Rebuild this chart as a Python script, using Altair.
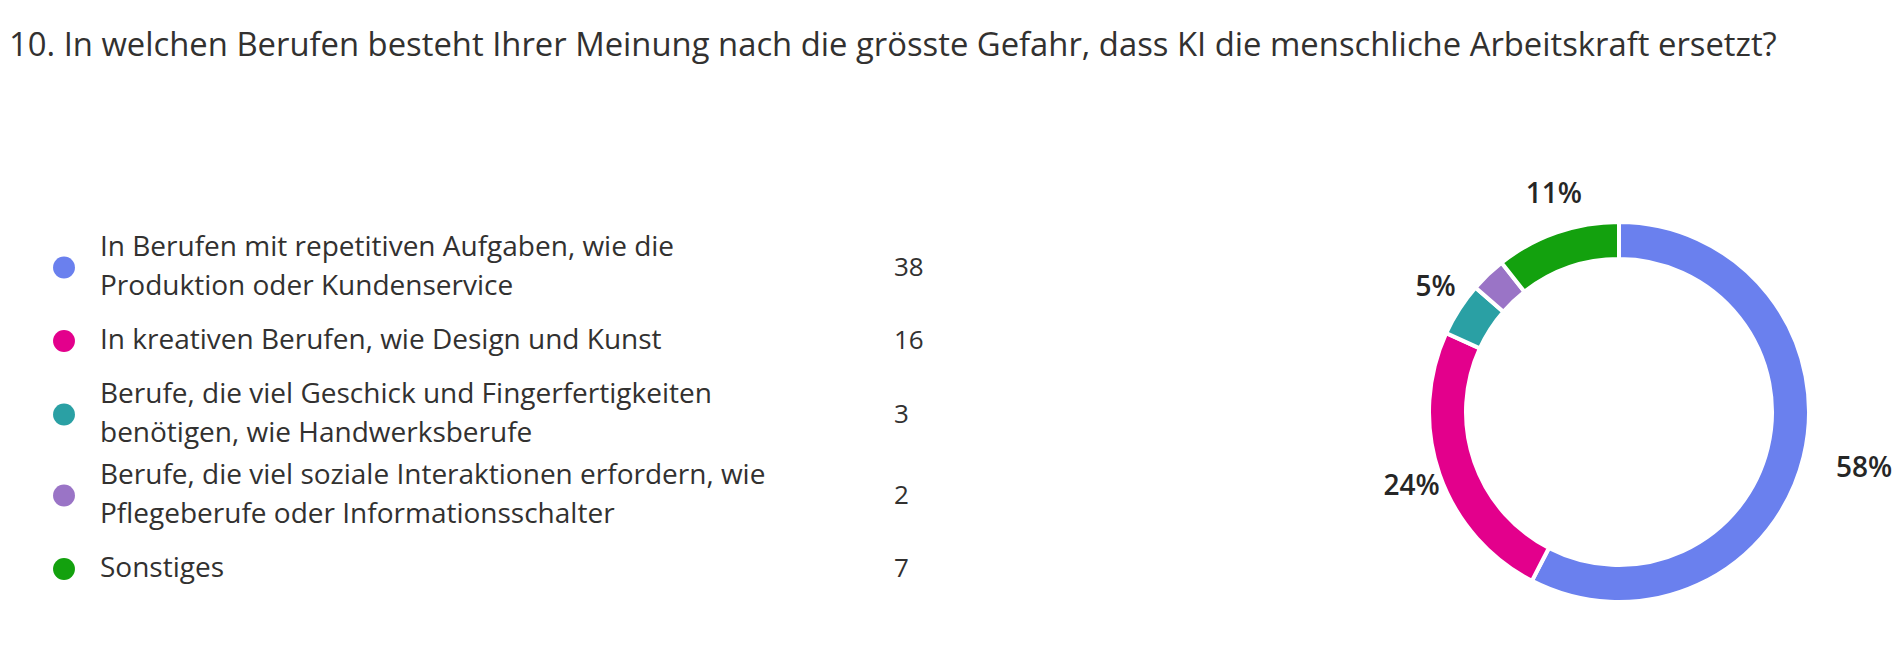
import altair as alt
import pandas as pd

title_text = ("10. In welchen Berufen besteht Ihrer Meinung nach die grösste Gefahr, "
              "dass KI die menschliche Arbeitskraft ersetzt?")
categories = [
    "In Berufen mit repetitiven Aufgaben, wie die\nProduktion oder Kundenservice",
    "In kreativen Berufen, wie Design und Kunst",
    "Berufe, die viel Geschick und Fingerfertigkeiten\nbenötigen, wie Handwerksberufe",
    "Berufe, die viel soziale Interaktionen erfordern, wie\nPflegeberufe oder Informationsschalter",
    "Sonstiges",
]
counts = [38, 16, 3, 2, 7]
colors = ["#6A80EE", "#E3008C", "#2AA0A4", "#9A74C6", "#13A10E"]

FONT = "Open Sans"
TEXT_COLOR = "#323130"

# legend row layout (row height grows with the number of wrapped lines)
ROW_BASE, ROW_PER_LINE, LINE_HEIGHT = 51, 15, 39

n_lines = [len(c.split("\n")) for c in categories]
df = pd.DataFrame({"idx": list(range(len(categories))), "category": categories,
                   "count": counts, "n": n_lines})

line_rows = []
for i, c in enumerate(categories):
    parts = c.split("\n")
    for j, p in enumerate(parts):
        line_rows.append({"idx": i, "line": j, "n": len(parts), "text": p})
lines_df = pd.DataFrame(line_rows)

title_df = pd.DataFrame({"t": [title_text]})

color_scale = alt.Scale(domain=categories, range=colors)
y_scale = alt.Scale(domain=[0, 400], range=[227, 627], nice=False, zero=False)


def with_row_center(ch):
    """Adds field 'center' = vertical middle of the legend row, stacked by row heights."""
    return ch.transform_calculate(
        h=f"{ROW_BASE} + {ROW_PER_LINE} * datum.n"
    ).transform_window(
        cum="sum(h)", sort=[alt.SortField("idx")], frame=[None, 0]
    ).transform_calculate(
        center="datum.cum - datum.h / 2"
    )


title = alt.Chart(title_df).mark_text(
    align="left", baseline="middle", font=FONT, fontSize=32.8, color=TEXT_COLOR
).encode(text="t:N", x=alt.value(9), y=alt.value(46))

dots = with_row_center(alt.Chart(df)).mark_circle(size=480, opacity=1).encode(
    y=alt.Y("center:Q", scale=y_scale, axis=None),
    x=alt.value(64),
    color=alt.Color("category:N", scale=color_scale, legend=None),
)

values = with_row_center(alt.Chart(df)).mark_text(
    align="left", baseline="middle", font=FONT, fontSize=26, color=TEXT_COLOR
).encode(
    y=alt.Y("center:Q", scale=y_scale, axis=None),
    x=alt.value(894),
    text="count:Q",
)

names = alt.Chart(lines_df).transform_lookup(
    lookup="idx",
    from_=alt.LookupData(
        data=alt.InlineData(values=[
            {"idx": int(r.idx), "rc": rc}
            for r, rc in zip(df.itertuples(),
                             (pd.Series([ROW_BASE + ROW_PER_LINE * k for k in n_lines]).cumsum()
                              - pd.Series([ROW_BASE + ROW_PER_LINE * k for k in n_lines]) / 2).tolist())
        ]),
        key="idx", fields=["rc"],
    ),
).transform_calculate(
    pos=f"datum.rc + (datum.line - (datum.n - 1) / 2) * {LINE_HEIGHT}"
).mark_text(
    align="left", baseline="middle", font=FONT, fontSize=28, color=TEXT_COLOR
).encode(
    y=alt.Y("pos:Q", scale=y_scale, axis=None),
    x=alt.value(100),
    text="text:N",
)

CX, CY = 1619, 412

arc = alt.Chart(df).mark_arc(innerRadius=153, outerRadius=190, stroke="white", strokeWidth=4).encode(
    theta=alt.Theta("count:Q", stack=True),
    order=alt.Order("idx:Q"),
    color=alt.Color("category:N", scale=color_scale, legend=None),
    x=alt.value(CX),
    y=alt.value(CY),
)


def pct_layer(expr, r):
    return alt.Chart(df).transform_joinaggregate(total="sum(count)").transform_calculate(
        share="datum.count / datum.total"
    ).transform_calculate(
        label=f"({expr}) ? format(datum.share, '.0%') : ''"
    ).mark_text(
        font=FONT, fontSize=28, fontWeight=600, color="#262626",
        align="center", baseline="middle", dx=10
    ).encode(
        theta=alt.Theta("count:Q", stack=True),
        order=alt.Order("idx:Q"),
        detail="category:N",
        radius=alt.value(r),
        text="label:N",
        x=alt.value(CX),
        y=alt.value(CY),
    )


pct_small = pct_layer("datum.share >= 0.04 && datum.share < 0.5", 230)
pct_big = pct_layer("datum.share >= 0.5", 242)

chart = alt.layer(title, dots, names, values, arc, pct_small, pct_big).properties(
    width=1899, height=658,
    autosize=alt.AutoSizeParams(type="none"),
    padding=0,
    background="white",
).configure_view(stroke=None)

chart.save("out.html", embed_options={"renderer": "svg", "actions": False})
